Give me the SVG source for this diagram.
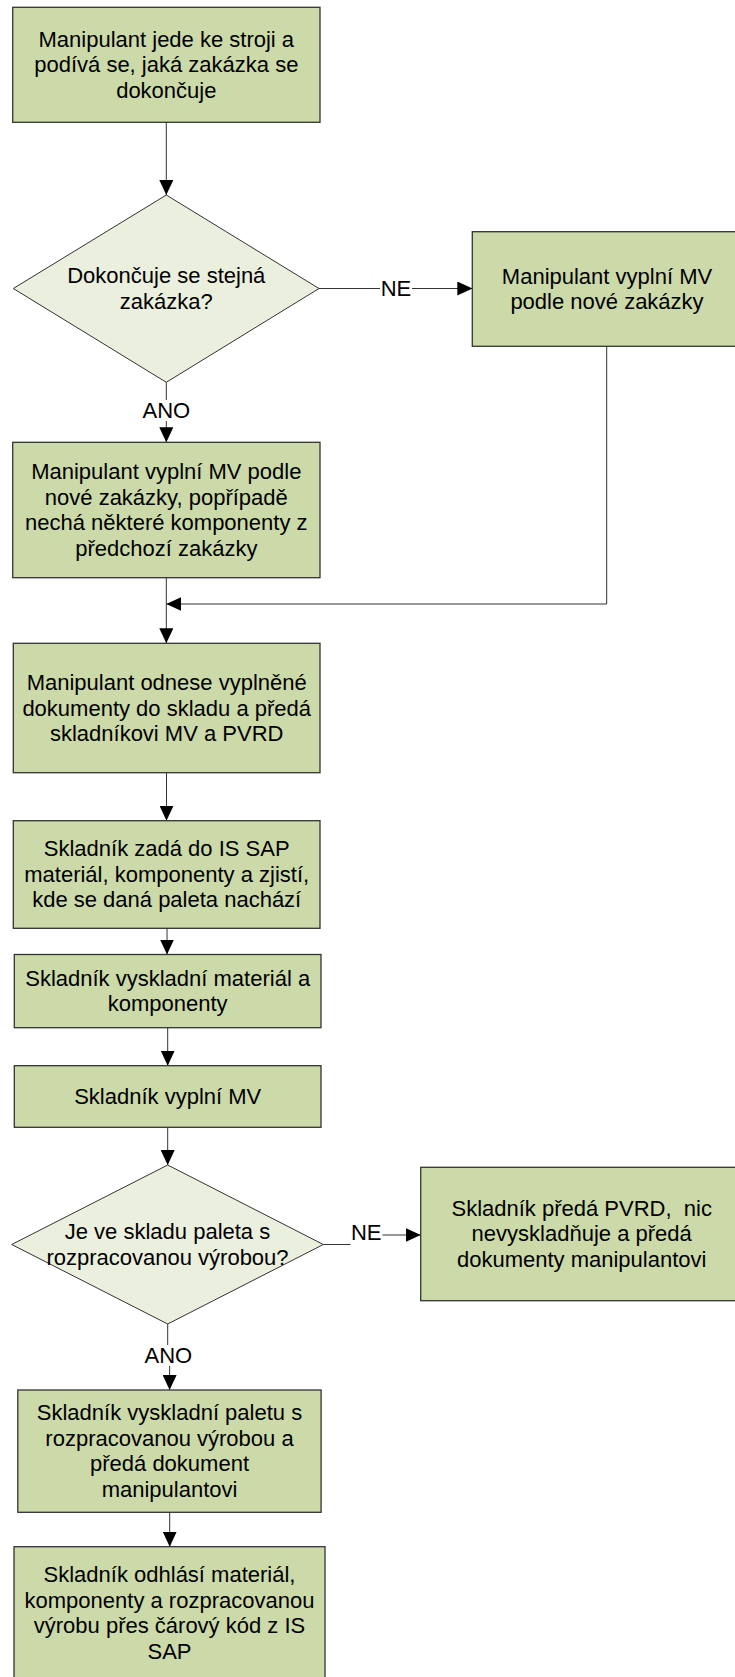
<svg xmlns="http://www.w3.org/2000/svg" width="735" height="1677" viewBox="0 0 735 1677">
  <style>
    .box { fill: #ccdaaa; stroke: #333333; stroke-width: 1.3; }
    .dec { fill: #ebefde; stroke: #333333; stroke-width: 1; }
    .t { font-family: "Liberation Sans", Arial, sans-serif; font-size: 22px; fill: #000000; text-anchor: middle; }
    .conn { fill: none; stroke: #333333; stroke-width: 1; }
    .lblbg { fill: #ffffff; }
  </style>
  <defs>
    <marker id="arrow" viewBox="0 0 15 14" refX="15" refY="7" markerWidth="15" markerHeight="14" markerUnits="userSpaceOnUse" orient="auto">
      <path d="M0,0 L15,7 L0,14 z" fill="#000000"/>
    </marker>
  </defs>
  <rect width="735" height="1677" fill="#ffffff"/>

  <!-- connectors -->
  <g id="connectors">
    <path class="conn" d="M166.3,122.3 V195" marker-end="url(#arrow)"/>
    <path class="conn" d="M319,288.5 H472.3" marker-end="url(#arrow)"/>
    <path class="conn" d="M166.3,382.3 V442.3" marker-end="url(#arrow)"/>
    <path class="conn" d="M606.7,346.3 V604 H166.3" marker-end="url(#arrow)"/>
    <path class="conn" d="M166.3,577.7 V643.3" marker-end="url(#arrow)"/>
    <path class="conn" d="M166.5,772.7 V820.7" marker-end="url(#arrow)"/>
    <path class="conn" d="M167,928.3 V954.5" marker-end="url(#arrow)"/>
    <path class="conn" d="M167.7,1027.7 V1065.7" marker-end="url(#arrow)"/>
    <path class="conn" d="M167.7,1127.3 V1165" marker-end="url(#arrow)"/>
    <path class="conn" d="M323.3,1244.5 H366 V1235 H420.7" marker-end="url(#arrow)"/>
    <path class="conn" d="M167.7,1324 V1355 H169.6 V1390" marker-end="url(#arrow)"/>
    <path class="conn" d="M169.7,1512.3 V1546.7" marker-end="url(#arrow)"/>

    <!-- connector labels -->
    <rect class="lblbg" x="380" y="279" width="32" height="20"/>
    <text class="t" x="396" y="295.7">NE</text>
    <rect class="lblbg" x="142" y="400" width="49" height="21"/>
    <text class="t" x="166.3" y="417.7">ANO</text>
    <rect class="lblbg" x="350.5" y="1223" width="32" height="23"/>
    <text class="t" x="366.2" y="1240">NE</text>
    <rect class="lblbg" x="144" y="1345" width="49" height="21"/>
    <text class="t" x="168.3" y="1362.7">ANO</text>
  </g>

  <g id="n1">
    <rect class="box" x="12.7" y="7.3" width="307.3" height="115"/>
    <text class="t" x="166.3" y="46.7">Manipulant jede ke stroji a</text>
    <text class="t" x="166.3" y="72.2">podívá se, jaká zakázka se</text>
    <text class="t" x="166.3" y="97.7">dokončuje</text>
  </g>

  <g id="d1">
    <polygon class="dec" points="166.3,195 319,288.5 166.3,382.3 13.3,288.5"/>
    <text class="t" x="166.3" y="283.2">Dokončuje se stejná</text>
    <text class="t" x="166.3" y="308.7">zakázka?</text>
  </g>

  <g id="n2">
    <rect class="box" x="472.3" y="231.7" width="269.4" height="114.6"/>
    <text class="t" x="607" y="283.7">Manipulant vyplní MV</text>
    <text class="t" x="607" y="309.2">podle nové zakázky</text>
  </g>

  <g id="n3">
    <rect class="box" x="12.7" y="442.3" width="307.3" height="135.4"/>
    <text class="t" x="166.3" y="479.2">Manipulant vyplní MV podle</text>
    <text class="t" x="166.3" y="504.7">nové zakázky, popřípadě</text>
    <text class="t" x="166.3" y="530.2">nechá některé komponenty z</text>
    <text class="t" x="166.3" y="555.7">předchozí zakázky</text>
  </g>

  <g id="n4">
    <rect class="box" x="13.3" y="643.3" width="306.7" height="129.4"/>
    <text class="t" x="166.7" y="690">Manipulant odnese vyplněné</text>
    <text class="t" x="166.7" y="715.5">dokumenty do skladu a předá</text>
    <text class="t" x="166.7" y="741">skladníkovi MV a PVRD</text>
  </g>

  <g id="n5">
    <rect class="box" x="13.3" y="820.7" width="306.7" height="107.6"/>
    <text class="t" x="166.7" y="856.4">Skladník zadá do IS SAP</text>
    <text class="t" x="166.7" y="881.9">materiál, komponenty a zjistí,</text>
    <text class="t" x="166.7" y="907.4">kde se daná paleta nachází</text>
  </g>

  <g id="n6">
    <rect class="box" x="14.3" y="954.5" width="306.7" height="73.2"/>
    <text class="t" x="167.7" y="985.6">Skladník vyskladní materiál a</text>
    <text class="t" x="167.7" y="1011.1">komponenty</text>
  </g>

  <g id="n7">
    <rect class="box" x="14.3" y="1065.7" width="306.7" height="61.6"/>
    <text class="t" x="167.7" y="1103.9">Skladník vyplní MV</text>
  </g>

  <g id="d2">
    <polygon class="dec" points="167.7,1165 323.3,1244.5 167.7,1324 11.7,1244.5"/>
    <text class="t" x="167.5" y="1239.1">Je ve skladu paleta s</text>
    <text class="t" x="167.5" y="1264.6">rozpracovanou výrobou?</text>
  </g>

  <g id="n8">
    <rect class="box" x="420.7" y="1167.3" width="322" height="133.4"/>
    <text class="t" x="581.7" y="1215.9">Skladník předá PVRD,&#160; nic</text>
    <text class="t" x="581.7" y="1241.4">nevyskladňuje a předá</text>
    <text class="t" x="581.7" y="1266.9">dokumenty manipulantovi</text>
  </g>

  <g id="n9">
    <rect class="box" x="17.8" y="1390" width="303.3" height="122.3"/>
    <text class="t" x="169.5" y="1420.3">Skladník vyskladní paletu s</text>
    <text class="t" x="169.5" y="1445.8">rozpracovanou výrobou a</text>
    <text class="t" x="169.5" y="1471.3">předá dokument</text>
    <text class="t" x="169.5" y="1496.8">manipulantovi</text>
  </g>

  <g id="n10">
    <rect class="box" x="14" y="1546.7" width="311" height="132"/>
    <text class="t" x="169.5" y="1582">Skladník odhlásí materiál,</text>
    <text class="t" x="169.5" y="1607.5">komponenty a rozpracovanou</text>
    <text class="t" x="169.5" y="1633">výrobu přes čárový kód z IS</text>
    <text class="t" x="169.5" y="1658.5">SAP</text>
  </g>
</svg>
